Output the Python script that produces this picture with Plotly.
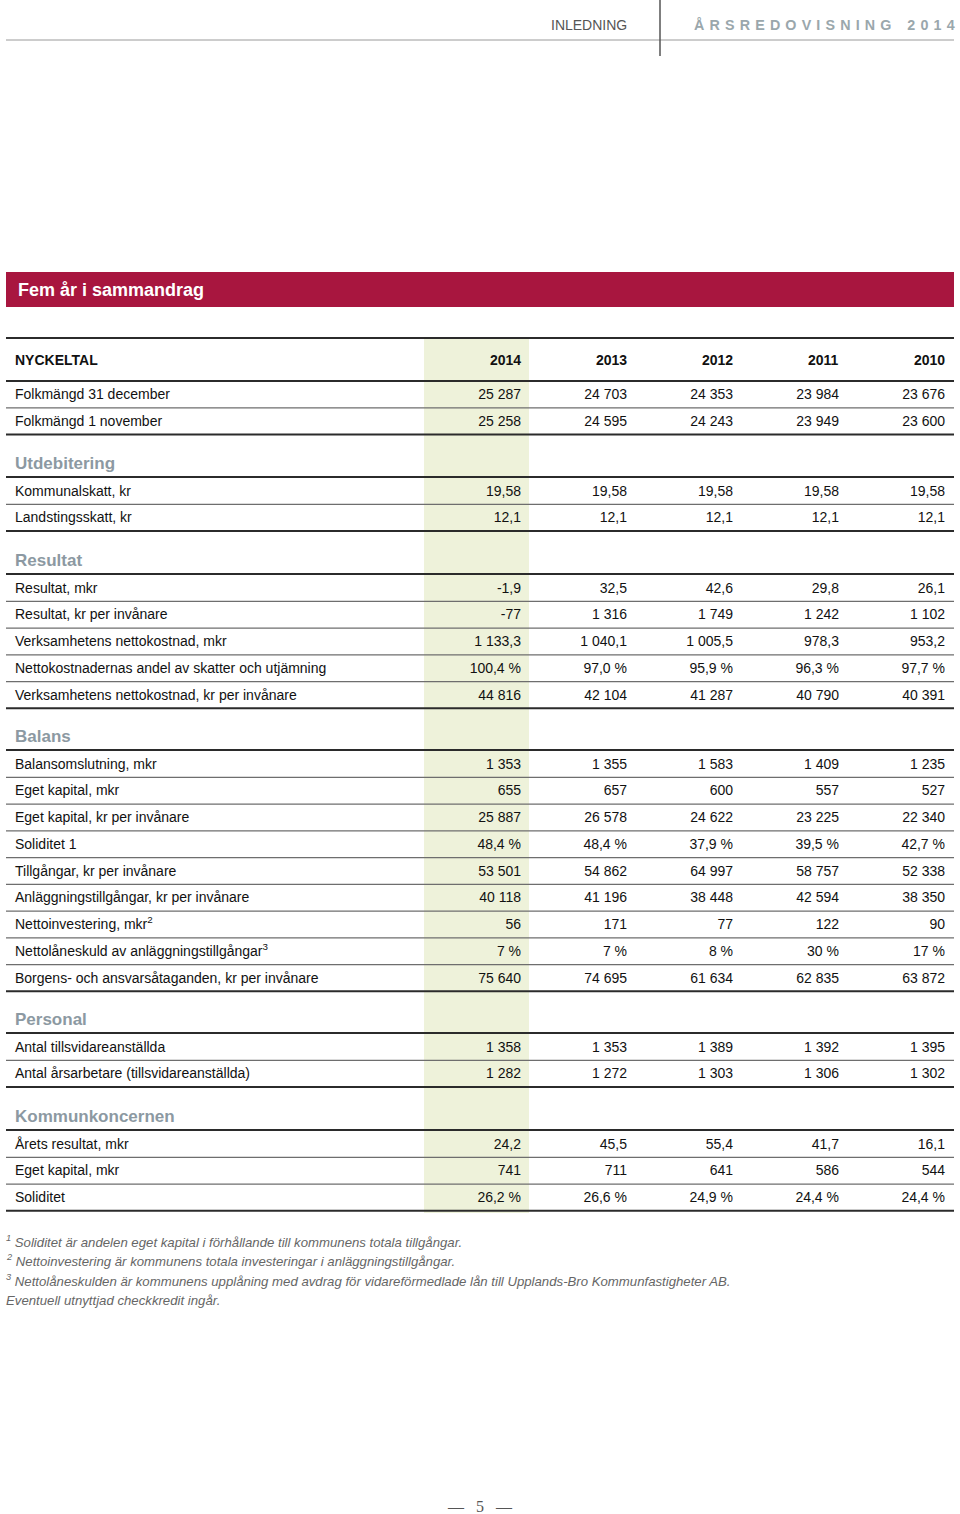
import plotly.graph_objects as go

# ---------------- data ----------------
years = ["2014", "2013", "2012", "2011", "2010"]

folk_labels = ["Folkmängd 31 december", "Folkmängd 1 november"]
folk_values = [
    ["25 287", "24 703", "24 353", "23 984", "23 676"],
    ["25 258", "24 595", "24 243", "23 949", "23 600"],
]

utdeb_labels = ["Kommunalskatt, kr", "Landstingsskatt, kr"]
utdeb_values = [
    ["19,58", "19,58", "19,58", "19,58", "19,58"],
    ["12,1", "12,1", "12,1", "12,1", "12,1"],
]

result_labels = [
    "Resultat, mkr",
    "Resultat, kr per invånare",
    "Verksamhetens nettokostnad, mkr",
    "Nettokostnadernas andel av skatter och utjämning",
    "Verksamhetens nettokostnad, kr per invånare",
]
result_values = [
    ["-1,9", "32,5", "42,6", "29,8", "26,1"],
    ["-77", "1 316", "1 749", "1 242", "1 102"],
    ["1 133,3", "1 040,1", "1 005,5", "978,3", "953,2"],
    ["100,4 %", "97,0 %", "95,9 %", "96,3 %", "97,7 %"],
    ["44 816", "42 104", "41 287", "40 790", "40 391"],
]

balans_labels = [
    "Balansomslutning, mkr",
    "Eget kapital, mkr",
    "Eget kapital, kr per invånare",
    "Soliditet 1",
    "Tillgångar, kr per invånare",
    "Anläggningstillgångar, kr per invånare",
    "Nettoinvestering, mkr<sup>2</sup>",
    "Nettolåneskuld av anläggningstillgångar<sup>3</sup>",
    "Borgens- och ansvarsåtaganden, kr per invånare",
]
balans_values = [
    ["1 353", "1 355", "1 583", "1 409", "1 235"],
    ["655", "657", "600", "557", "527"],
    ["25 887", "26 578", "24 622", "23 225", "22 340"],
    ["48,4 %", "48,4 %", "37,9 %", "39,5 %", "42,7 %"],
    ["53 501", "54 862", "64 997", "58 757", "52 338"],
    ["40 118", "41 196", "38 448", "42 594", "38 350"],
    ["56", "171", "77", "122", "90"],
    ["7 %", "7 %", "8 %", "30 %", "17 %"],
    ["75 640", "74 695", "61 634", "62 835", "63 872"],
]

personal_labels = ["Antal tillsvidareanställda", "Antal årsarbetare (tillsvidareanställda)"]
personal_values = [
    ["1 358", "1 353", "1 389", "1 392", "1 395"],
    ["1 282", "1 272", "1 303", "1 306", "1 302"],
]

koncern_labels = ["Årets resultat, mkr", "Eget kapital, mkr", "Soliditet"]
koncern_values = [
    ["24,2", "45,5", "55,4", "41,7", "16,1"],
    ["741", "711", "641", "586", "544"],
    ["26,2 %", "26,6 %", "24,9 %", "24,4 %", "24,4 %"],
]

section_titles = ["Utdebitering", "Resultat", "Balans", "Personal", "Kommunkoncernen"]

footnotes = [
    "<sup>1</sup> Soliditet är andelen eget kapital i förhållande till kommunens totala tillgångar.",
    "<sup>2</sup> Nettoinvestering är kommunens totala investeringar i anläggningstillgångar.",
    "<sup>3</sup> Nettolåneskulden är kommunens upplåning med avdrag för vidareförmedlade lån till Upplands-Bro Kommunfastigheter AB.",
    "Eventuell utnyttjad checkkredit ingår.",
]

header_left = "INLEDNING"
header_right = "ÅRSREDOVISNING 2014"
page_number = "5"

# ---------------- layout / style ----------------
W, H = 960, 1514
FONT = "Liberation Sans, Arial, sans-serif"
RED = "#A8163F"
GREEN = "#EEF2DA"
HEAD_GRAY = "#8C99A2"
DARK = "#2b2b2b"
MID = "#6e6e6e"
X0, X1 = 6, 954
LABEL_X = 15
COL_RIGHT = [521, 627, 733, 839, 945]
ROW_H = 26.75
PAD = 2  # annotation inner padding compensation

fig = go.Figure()
shapes = []
annotations = []

def hline(y, color=DARK, width=2):
    shapes.append(dict(type="line", xref="x", yref="y", x0=X0, x1=X1, y0=y, y1=y,
                       line=dict(color=color, width=width), layer="above"))

# green highlight column
shapes.append(dict(type="rect", xref="x", yref="y", x0=424, x1=529, y0=338, y1=1213,
                   fillcolor=GREEN, line=dict(width=0), layer="below"))

row_x, row_y, row_t = [], [], []
cell_x, cell_y, cell_t = [], [], []

def add_rows(labels, values, y_first):
    y = y_first
    for i, (lab, vals) in enumerate(zip(labels, values)):
        row_x.append(LABEL_X); row_y.append(y + 1); row_t.append(lab)
        for j, v in enumerate(vals):
            cell_x.append(COL_RIGHT[j]); cell_y.append(y + 1); cell_t.append(v)
        line_y = y + 13.3
        last = i == len(labels) - 1
        hline(line_y, DARK if last else MID, 2 if last else 1.3)
        y += ROW_H
    return y

# header row
hline(338, DARK, 2.2)
annotations.append(dict(x=LABEL_X - PAD, y=360, xref="x", yref="y", text="<b>NYCKELTAL</b>",
                        showarrow=False, xanchor="left", yanchor="middle",
                        font=dict(family=FONT, size=14, color="#111")))
for j, yr in enumerate(years):
    annotations.append(dict(x=COL_RIGHT[j] + PAD, y=360, xref="x", yref="y", text="<b>%s</b>" % yr,
                            showarrow=False, xanchor="right", yanchor="middle",
                            font=dict(family=FONT, size=14, color="#111")))
hline(381, DARK, 2)
add_rows(folk_labels, folk_values, 394.5)

sections = [
    (utdeb_labels, utdeb_values, 463),
    (result_labels, result_values, 560),
    (balans_labels, balans_values, 736),
    (personal_labels, personal_values, 1019),
    (koncern_labels, koncern_values, 1116),
]
for title, (labs, vals, hy) in zip(section_titles, sections):
    annotations.append(dict(x=LABEL_X - PAD, y=hy, xref="x", yref="y", text="<b>%s</b>" % title,
                            showarrow=False, xanchor="left", yanchor="middle",
                            font=dict(family=FONT, size=17, color=HEAD_GRAY)))
    hline(hy + 14, DARK, 2)
    add_rows(labs, vals, hy + 28)

fig.add_trace(go.Scatter(x=row_x, y=row_y, text=row_t, mode="text", textposition="middle right",
                         textfont=dict(family=FONT, size=14, color="#111"), hoverinfo="skip",
                         showlegend=False))
fig.add_trace(go.Scatter(x=cell_x, y=cell_y, text=cell_t, mode="text", textposition="middle left",
                         textfont=dict(family=FONT, size=14, color="#111"), hoverinfo="skip",
                         showlegend=False))

# top header
shapes.append(dict(type="line", xref="x", yref="y", x0=X0, x1=X1, y0=40, y1=40,
                   line=dict(color="#9a9a9a", width=1)))
shapes.append(dict(type="line", xref="x", yref="y", x0=660, x1=660, y0=0, y1=56,
                   line=dict(color="#555", width=1.5)))
annotations.append(dict(x=627 + PAD, y=25, xref="x", yref="y", text=header_left, showarrow=False,
                        xanchor="right", yanchor="middle",
                        font=dict(family=FONT, size=14, color="#555")))
words = header_right.split(" ")
spaced = "    ".join(" \u200a".join(w) for w in words)
annotations.append(dict(x=957, y=25, xref="x", yref="y",
                        text="<b>%s</b>" % spaced,
                        showarrow=False, xanchor="right", yanchor="middle",
                        font=dict(family=FONT, size=14.3, color="#9AA7AC")))

# red title band
shapes.append(dict(type="rect", xref="x", yref="y", x0=X0, x1=X1, y0=272, y1=307,
                   fillcolor=RED, line=dict(width=0), layer="below"))
annotations.append(dict(x=18 - PAD, y=289.5, xref="x", yref="y", text="<b>Fem år i sammandrag</b>",
                        showarrow=False, xanchor="left", yanchor="middle",
                        font=dict(family=FONT, size=18, color="white")))

# footnotes
for k, fn in enumerate(footnotes):
    annotations.append(dict(x=6 - PAD, y=1241 + k * 19.7, xref="x", yref="y", text="<i>%s</i>" % fn,
                            showarrow=False, xanchor="left", yanchor="middle",
                            font=dict(family=FONT, size=13.2, color="#666")))

# page number
annotations.append(dict(x=480, y=1506, xref="x", yref="y", text="—   %s   —" % page_number,
                        showarrow=False, xanchor="center", yanchor="middle",
                        font=dict(family="Liberation Serif, serif", size=16, color="#555")))

fig.update_layout(
    width=W, height=H, margin=dict(l=0, r=0, t=0, b=0),
    paper_bgcolor="white", plot_bgcolor="white",
    xaxis=dict(range=[0, W], visible=False, fixedrange=True),
    yaxis=dict(range=[H, 0], visible=False, fixedrange=True),
    shapes=shapes, annotations=annotations, showlegend=False,
)

fig.write_html("out.html", config={"displayModeBar": False},
               post_script="document.body.style.margin='0';document.body.style.overflow='hidden';")
